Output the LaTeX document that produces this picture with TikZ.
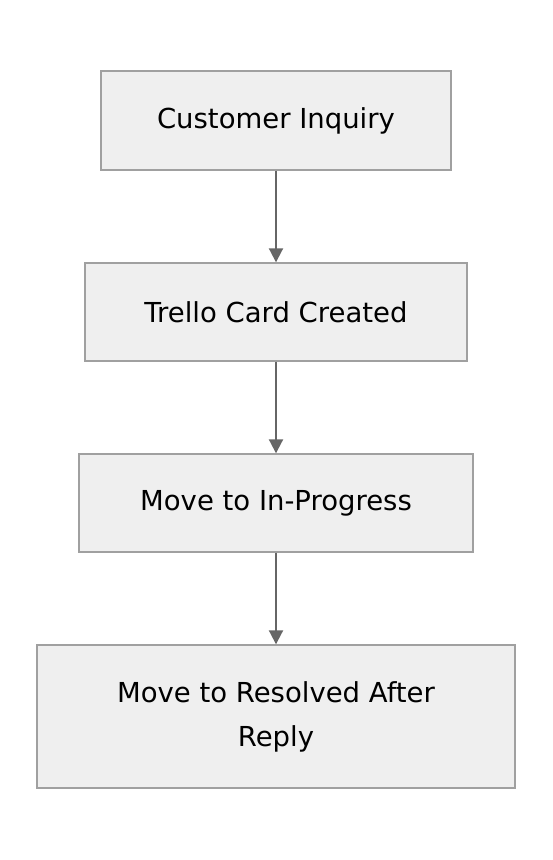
\documentclass[tikz,border=0pt]{standalone}
\usepackage{fontspec}
\setmainfont{DejaVu Sans}
\usetikzlibrary{arrows.meta}
\definecolor{boxfill}{HTML}{EFEFEF}
\definecolor{boxline}{HTML}{A0A0A0}
\definecolor{arrowcol}{HTML}{666666}
\begin{document}
\begin{tikzpicture}[x=1pt,y=-1pt,
  flowbox/.style={draw=boxline,line width=1.4pt,fill=boxfill,inner sep=0pt,
    font=\fontsize{27.5}{44}\selectfont,align=center,text=black},
  flowarrow/.style={draw=arrowcol,line width=2pt,-{Triangle[length=14pt,width=14pt]}}]
\useasboundingbox (0,0) rectangle (552,860);
\fill[white] (0,0) rectangle (552,860);
\node[flowbox,minimum width=350pt,minimum height=99pt] (a) at (276,120.5) {Customer Inquiry};
\node[flowbox,minimum width=382pt,minimum height=98pt] (b) at (276,312) {Trello Card Created};
\node[flowbox,minimum width=394pt,minimum height=98pt] (c) at (276,503) {Move to In-Progress};
\node[flowbox,minimum width=478pt,minimum height=143pt] (d) at (276,716.5) {Move to Resolved After\\Reply};
\draw[flowarrow] (a.south) -- (b.north);
\draw[flowarrow] (b.south) -- (c.north);
\draw[flowarrow] (c.south) -- (d.north);
\end{tikzpicture}
\end{document}
